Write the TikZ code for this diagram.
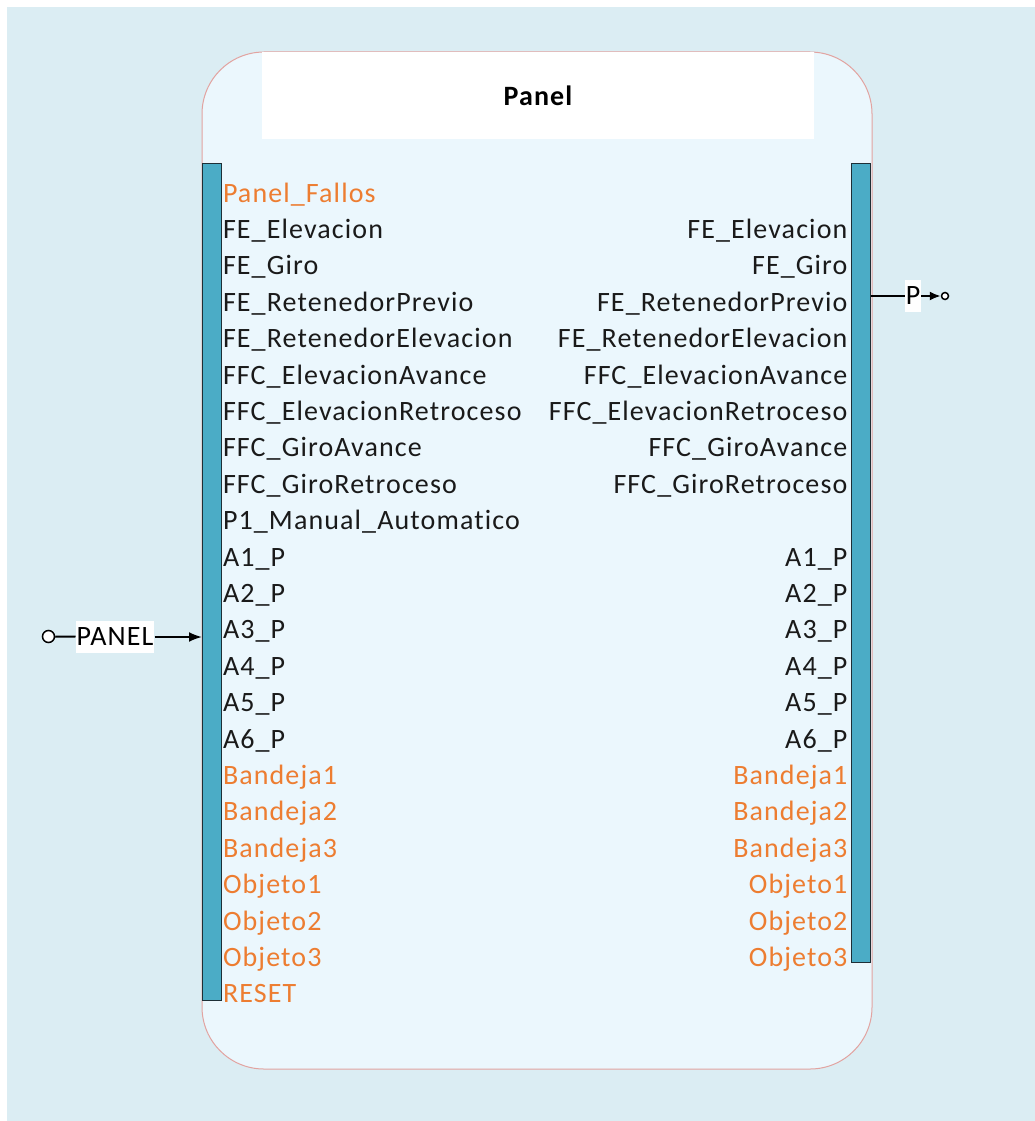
\documentclass[tikz,border=0pt]{standalone}
\usepackage{fontspec}
\setmainfont{Carlito}[LetterSpace=4.0, Ligatures={NoCommon}]
\usetikzlibrary{arrows.meta,positioning}
\definecolor{canvasbg}{HTML}{DBEDF3}
\definecolor{blockfill}{HTML}{EBF7FD}
\definecolor{blockline}{HTML}{E2A3A0}
\definecolor{portfill}{HTML}{4BACC6}
\definecolor{portline}{HTML}{1E2F36}
\definecolor{sigorange}{HTML}{ED7D31}
\definecolor{sigtext}{HTML}{1A1A1A}

\begin{document}
\begin{tikzpicture}[
    x=1pt, y=-1pt,
    node distance=9.0pt,
    every node/.style={font=\fontsize{28}{34}\selectfont},
    block/.style={draw=blockline, line width=1pt, fill=blockfill, rounded corners=62pt, minimum width=670pt, minimum height=1017pt},
    titlebox/.style={fill=white, minimum width=552pt, minimum height=87pt, font=\fontsize{28}{34}\selectfont\bfseries},
    portbar/.style={draw=portline, line width=1.3pt, fill=portfill, minimum width=19pt, anchor=north west, inner sep=0pt},
    sig/.style={text=sigtext, inner sep=0pt, text width=300pt, text height=20pt, text depth=7pt},
    insig/.style={sig, align=left},
    outsig/.style={sig, align=right},
    alarm/.style={text=sigorange},
    pinlabel/.style={fill=white, inner xsep=1pt, inner ysep=7pt},
    terminal/.style={circle, draw, line width=1.5pt, fill=white, inner sep=0pt, minimum size=#1},
    wire/.style={line width=2pt},
    flow/.style={-{Latex[length=13pt,width=10pt]}, line width=2pt},
    smallflow/.style={-{Latex[length=11pt,width=9pt]}, line width=2pt}
]
\useasboundingbox (0,0) rectangle (1035,1121);
\fill[white] (0,0) rectangle (1035,1121);
\fill[canvasbg] (7,7) rectangle (1035,1121);

\node[block] (panel) at (537,560.5) {};
\node[titlebox] (title) at (538,95.5) {Panel};
\node[portbar, minimum height=837pt] (inport) at (202,163) {};
\node[portbar, minimum height=799pt] (outport) at (851,163) {};

\node[insig, alarm] (lFallos) at (373,195.5) {Panel\_Fallos};
\node[insig, below=of lFallos] (lElev) {FE\_Elevacion};
\node[insig, below=of lElev] (lGiro) {FE\_Giro};
\node[insig, below=of lGiro] (lRetPrev) {FE\_RetenedorPrevio};
\node[insig, below=of lRetPrev] (lRetElev) {FE\_RetenedorElevacion};
\node[insig, below=of lRetElev] (lElevAv) {FFC\_ElevacionAvance};
\node[insig, below=of lElevAv] (lElevRet) {FFC\_ElevacionRetroceso};
\node[insig, below=of lElevRet] (lGiroAv) {FFC\_GiroAvance};
\node[insig, below=of lGiroAv] (lGiroRet) {FFC\_GiroRetroceso};
\node[insig, below=of lGiroRet] (lManual) {P1\_Manual\_Automatico};
\node[insig, below=of lManual] (lA1) {A1\_P};
\node[insig, below=of lA1] (lA2) {A2\_P};
\node[insig, below=of lA2] (lA3) {A3\_P};
\node[insig, below=of lA3] (lA4) {A4\_P};
\node[insig, below=of lA4] (lA5) {A5\_P};
\node[insig, below=of lA5] (lA6) {A6\_P};
\node[insig, alarm, below=of lA6] (lBand1) {Bandeja1};
\node[insig, alarm, below=of lBand1] (lBand2) {Bandeja2};
\node[insig, alarm, below=of lBand2] (lBand3) {Bandeja3};
\node[insig, alarm, below=of lBand3] (lObj1) {Objeto1};
\node[insig, alarm, below=of lObj1] (lObj2) {Objeto2};
\node[insig, alarm, below=of lObj2] (lObj3) {Objeto3};
\node[insig, alarm, below=of lObj3] (lReset) {RESET};

\node[outsig, right=24pt of lElev] (rElev) {FE\_Elevacion};
\node[outsig, below=of rElev] (rGiro) {FE\_Giro};
\node[outsig, below=of rGiro] (rRetPrev) {FE\_RetenedorPrevio};
\node[outsig, below=of rRetPrev] (rRetElev) {FE\_RetenedorElevacion};
\node[outsig, below=of rRetElev] (rElevAv) {FFC\_ElevacionAvance};
\node[outsig, below=of rElevAv] (rElevRet) {FFC\_ElevacionRetroceso};
\node[outsig, below=of rElevRet] (rGiroAv) {FFC\_GiroAvance};
\node[outsig, below=of rGiroAv] (rGiroRet) {FFC\_GiroRetroceso};
\node[outsig, right=24pt of lA1] (rA1) {A1\_P};
\node[outsig, below=of rA1] (rA2) {A2\_P};
\node[outsig, below=of rA2] (rA3) {A3\_P};
\node[outsig, below=of rA3] (rA4) {A4\_P};
\node[outsig, below=of rA4] (rA5) {A5\_P};
\node[outsig, below=of rA5] (rA6) {A6\_P};
\node[outsig, alarm, below=of rA6] (rBand1) {Bandeja1};
\node[outsig, alarm, below=of rBand1] (rBand2) {Bandeja2};
\node[outsig, alarm, below=of rBand2] (rBand3) {Bandeja3};
\node[outsig, alarm, below=of rBand3] (rObj1) {Objeto1};
\node[outsig, alarm, below=of rObj1] (rObj2) {Objeto2};
\node[outsig, alarm, below=of rObj2] (rObj3) {Objeto3};

\node[terminal=12pt] (inpin) at (48.5,636.5) {};
\node[pinlabel] (inlabel) at (115,637) {PANEL};
\draw[wire] (inpin) -- (inlabel);
\draw[flow] (inlabel) -- (inlabel -| inport.west);

\node[pinlabel] (outlabel) at (913,296) {P};
\node[terminal=7pt] (outpin) at (945,296) {};
\draw[wire] (outlabel -| outport.east) -- (outlabel);
\draw[smallflow] (outlabel) -- (outpin);
\end{tikzpicture}
\end{document}
